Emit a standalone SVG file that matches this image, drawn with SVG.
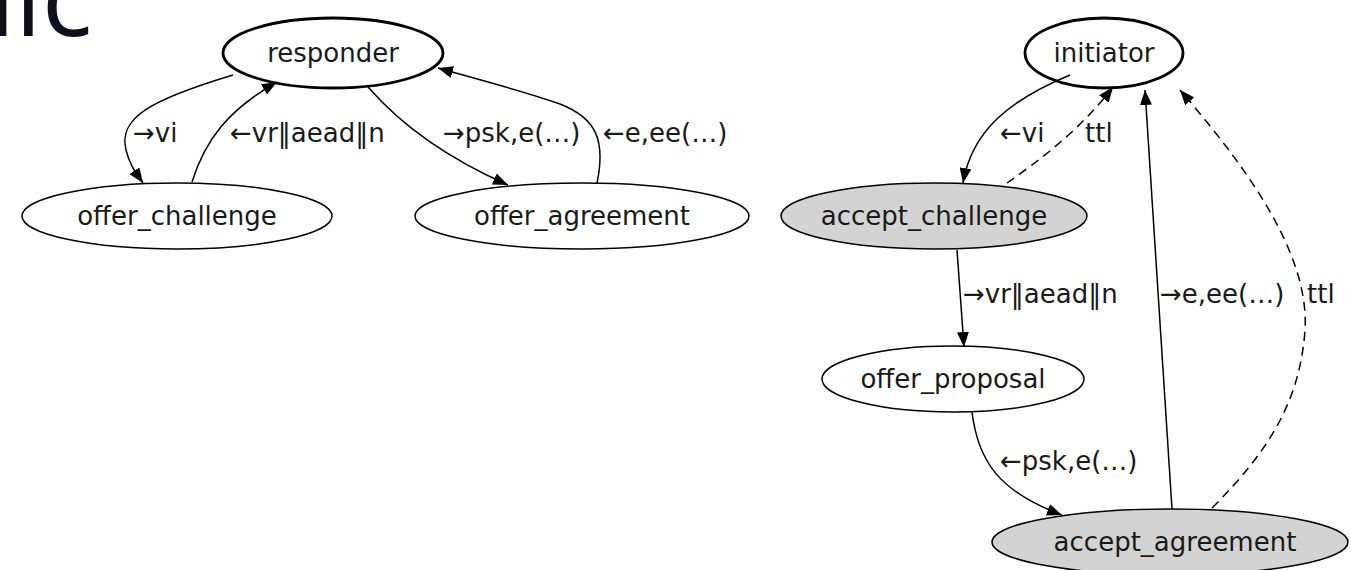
<svg xmlns="http://www.w3.org/2000/svg" width="1351" height="570" viewBox="0 0 1351 570">
  <style>
    .node ellipse { stroke: #000; stroke-width: 1.5; fill: #fff; }
    .node.start ellipse { stroke-width: 2.8; }
    .node.accept ellipse { fill: #d3d3d3; }
    .node text { font-family: "DejaVu Sans", sans-serif; font-size: 26px; fill: #1a1a1a; text-anchor: middle; }
    .edge { fill: none; stroke: #000; stroke-width: 1.5; marker-end: url(#arrow); }
    .dashed { stroke-dasharray: 9 6; }
    .label { font-family: "DejaVu Sans", sans-serif; font-size: 26px; fill: #1a1a1a; }
    .title { font-family: "Open Sans", sans-serif; font-size: 106px; fill: #10101c; }
  </style>
  <defs>
    <marker id="arrow" markerUnits="userSpaceOnUse" markerWidth="16" markerHeight="12" refX="15" refY="6" orient="auto">
      <path d="M0,0 L15,6 L0,12 Z" fill="#000"/>
    </marker>
  </defs>

  <rect width="1351" height="570" fill="#fff"/>

  <!-- slide heading, running off the top-left corner -->
  <text class="title" x="-50" y="36">nic</text>

  <!-- responder side -->
  <g id="responder" class="node start">
    <ellipse cx="333" cy="53" rx="110" ry="35"/>
    <text x="333" y="62">responder</text>
  </g>
  <g id="offer_challenge" class="node">
    <ellipse cx="177" cy="216" rx="155" ry="33"/>
    <text x="177" y="225">offer_challenge</text>
  </g>
  <g id="offer_agreement" class="node">
    <ellipse cx="582" cy="216" rx="167" ry="33"/>
    <text x="582" y="225">offer_agreement</text>
  </g>

  <!-- initiator side -->
  <g id="initiator" class="node start">
    <ellipse cx="1104" cy="53" rx="79" ry="35"/>
    <text x="1104" y="62">initiator</text>
  </g>
  <g id="accept_challenge" class="node accept">
    <ellipse cx="934" cy="216" rx="153" ry="33"/>
    <text x="934" y="225">accept_challenge</text>
  </g>
  <g id="offer_proposal" class="node">
    <ellipse cx="953" cy="379" rx="131" ry="33"/>
    <text x="953" y="388">offer_proposal</text>
  </g>
  <g id="accept_agreement" class="node accept">
    <ellipse cx="1170" cy="542" rx="178" ry="33"/>
    <text x="1175" y="551">accept_agreement</text>
  </g>

  <g id="connectors">
    <!-- responder graph -->
    <path class="edge" d="M233,75 C150,100 118,118 126,150 C130,166 136,173 143,183"/>
    <text class="label" x="133" y="142">→vi</text>

    <path class="edge" d="M192,182 C205,140 228,110 277,82"/>
    <text class="label" x="230" y="142">←vr‖aead‖n</text>

    <path class="edge" d="M368,87 C395,118 440,155 508,185"/>
    <text class="label" x="443" y="142">→psk,e(…)</text>

    <path class="edge" d="M597,183 C606,140 596,118 560,104 C520,90 480,80 438,68"/>
    <text class="label" x="603" y="142">←e,ee(…)</text>

    <!-- initiator graph -->
    <path class="edge" d="M1070,75 C1010,100 972,130 963,183"/>
    <text class="label" x="1000" y="142">←vi</text>

    <path class="edge dashed" d="M1007,183 C1040,160 1080,130 1113,87"/>
    <text class="label" x="1085" y="142">ttl</text>

    <path class="edge" d="M957,250 L964,347"/>
    <text class="label" x="963" y="303">→vr‖aead‖n</text>

    <path class="edge" d="M972,412 C978,462 1000,492 1062,515"/>
    <text class="label" x="1000" y="470">←psk,e(…)</text>

    <path class="edge" d="M1172,509 L1145,90"/>
    <text class="label" x="1160" y="303">→e,ee(…)</text>

    <path class="edge dashed" d="M1212,508 C1270,450 1300,400 1305,330 C1310,250 1240,160 1180,90"/>
    <text class="label" x="1307" y="303">ttl</text>
  </g>
</svg>
